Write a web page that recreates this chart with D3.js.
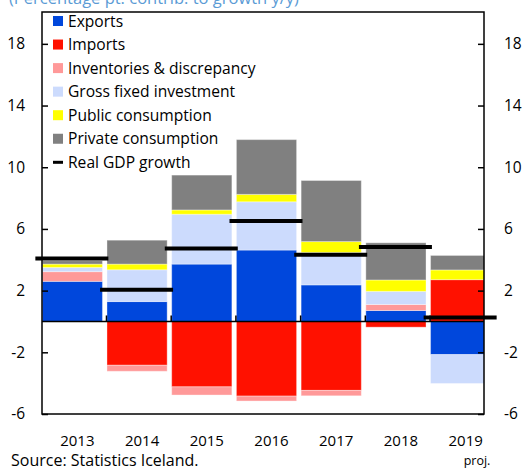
<!DOCTYPE html>
<html><head><meta charset="utf-8">
<script src="https://cdn.jsdelivr.net/npm/d3@7"></script>
<style>
html,body{margin:0;padding:0;background:#fff;}
svg{display:block;font-family:"Open Sans","Noto Sans",sans-serif;}
</style></head>
<body><svg id="chart" width="523" height="468"></svg>
<script>
const years = ["2013","2014","2015","2016","2017","2018","2019"];
const exportsV = [2.6, 1.29, 3.72, 4.63, 2.37, 0.71, -2.15];
const importsV = [0, -2.84, -4.24, -4.84, -4.47, -0.37, 2.71];
const inventoriesV = [0.63, -0.39, -0.53, -0.32, -0.35, 0.39, 0];
const gfiV = [0.27, 2.06, 3.23, 3.13, 2.10, 0.85, -1.87];
const publicV = [0.22, 0.37, 0.28, 0.48, 0.71, 0.74, 0.63];
const privateV = [0.22, 1.55, 2.26, 3.55, 3.96, 2.41, 0.94];
const gdpV = [4.08, 2.06, 4.73, 6.52, 4.32, 4.82, 0.26];
const yTicks = [18, 14, 10, 6, 2, -2, -6];
const seriesNames = ["Exports","Imports","Inventories & discrepancy","Gross fixed investment","Public consumption","Private consumption"];
const seriesColors = ["#0047dc","#ff1100","#ff9999","#ccdbfd","#ffff00","#808080"];
const seriesValues = [exportsV, importsV, inventoriesV, gfiV, publicV, privateV];
const gdpLabel = "Real GDP growth";
const titleText = "(Percentage pt. contrib. to growth y/y)";
const sourceText = "Source: Statistics Iceland.";
const projText = "proj.";

const svg = d3.select("#chart");
const L = 42, R = 484, T = 12, B = 414;

const x = d3.scaleBand().domain(years).range([40, 493]).paddingInner(0.07).paddingOuter(0.035);
const y = d3.scaleLinear().domain([-6, 20]).range([B, T + 1]);

const table = years.map((yr, i) => {
  const o = {year: yr};
  seriesNames.forEach((s, j) => o[s] = seriesValues[j][i]);
  return o;
});
const stack = d3.stack().keys(seriesNames).offset(d3.stackOffsetDiverging);
const layers = stack(table);

// title (cut off at the top, as in the reference)
svg.append("text").attr("x", 9).attr("y", 3.5).attr("font-size", 16.5)
  .attr("fill", "#5b9bd5").text(titleText);

svg.append("defs").append("clipPath").attr("id", "clip")
  .append("rect").attr("x", L).attr("y", T).attr("width", R - L).attr("height", B - T);

const g = svg.append("g").attr("clip-path", "url(#clip)");
layers.forEach((layer, j) => {
  g.append("g").attr("fill", seriesColors[j])
    .selectAll("rect").data(layer).join("rect")
    .attr("x", d => x(d.data.year))
    .attr("width", x.bandwidth())
    .attr("y", d => y(Math.max(d[0], d[1])))
    .attr("height", d => Math.abs(y(d[0]) - y(d[1])))
    .attr("stroke", "rgba(255,255,255,0.35)")
    .attr("stroke-width", 1);
});

// zero line
svg.append("line").attr("x1", L).attr("x2", R).attr("y1", y(0)).attr("y2", y(0))
  .attr("stroke", "#000").attr("stroke-width", 1.5);
// category ticks at zero
svg.append("g").selectAll("line").data(years.slice(1)).join("line")
  .attr("x1", d => x(d) - 0.5).attr("x2", d => x(d) - 0.5)
  .attr("y1", y(0)).attr("y2", y(0) - 6)
  .attr("stroke", "#000").attr("stroke-width", 1.5);

// GDP lines
svg.append("g").selectAll("line").data(years).join("line")
  .attr("x1", d => x(d) + x.bandwidth() / 2 - 37)
  .attr("x2", d => x(d) + x.bandwidth() / 2 + 36)
  .attr("y1", (d, i) => y(gdpV[i])).attr("y2", (d, i) => y(gdpV[i]))
  .attr("stroke", "#000").attr("stroke-width", 4);

// frame
svg.append("rect").attr("x", L).attr("y", T).attr("width", R - L).attr("height", B - T)
  .attr("fill", "none").attr("stroke", "#000").attr("stroke-width", 1.5);

// y axes
const fmt = d => String(d);
const yl = d3.axisLeft(y).tickValues(yTicks).tickSize(-6).tickPadding(17).tickFormat(fmt);
const yr = d3.axisRight(y).tickValues(yTicks).tickSize(-6).tickPadding(20).tickFormat(fmt);
[svg.append("g").attr("transform", `translate(${L},0)`).call(yl),
 svg.append("g").attr("transform", `translate(${R},0)`).call(yr)].forEach(a => {
  a.select(".domain").remove();
  a.selectAll("line").attr("stroke", "#000").attr("stroke-width", 1.5);
  a.selectAll("text").attr("font-size", 15.5).attr("fill", "#000")
    .attr("font-family", "'Open Sans','Noto Sans',sans-serif");
});

// x labels
svg.append("g").selectAll("text").data(years).join("text")
  .attr("x", d => x(d) + x.bandwidth() / 2 + 5).attr("y", 446)
  .attr("text-anchor", "middle").attr("font-size", 15).attr("fill", "#000").text(d => d);

svg.append("text").attr("x", 477).attr("y", 465).attr("text-anchor", "middle")
  .attr("font-size", 12.5).attr("fill", "#000").text(projText);
svg.append("text").attr("x", 11).attr("y", 466).attr("font-size", 16)
  .attr("fill", "#000").text(sourceText);

// legend
const lg = svg.append("g");
const rowY = i => 21 + i * 23.55;
seriesNames.forEach((s, j) => {
  lg.append("rect").attr("x", 53).attr("y", rowY(j) - 5).attr("width", 10).attr("height", 10)
    .attr("fill", seriesColors[j]);
  lg.append("text").attr("x", 68).attr("y", rowY(j) + 5.5).attr("font-size", 15.6)
    .attr("fill", "#000").text(s);
});
lg.append("line").attr("x1", 53).attr("x2", 63).attr("y1", rowY(6)).attr("y2", rowY(6))
  .attr("stroke", "#000").attr("stroke-width", 3);
lg.append("text").attr("x", 68).attr("y", rowY(6) + 5.5).attr("font-size", 15.6)
  .attr("fill", "#000").text(gdpLabel);
</script></body></html>
